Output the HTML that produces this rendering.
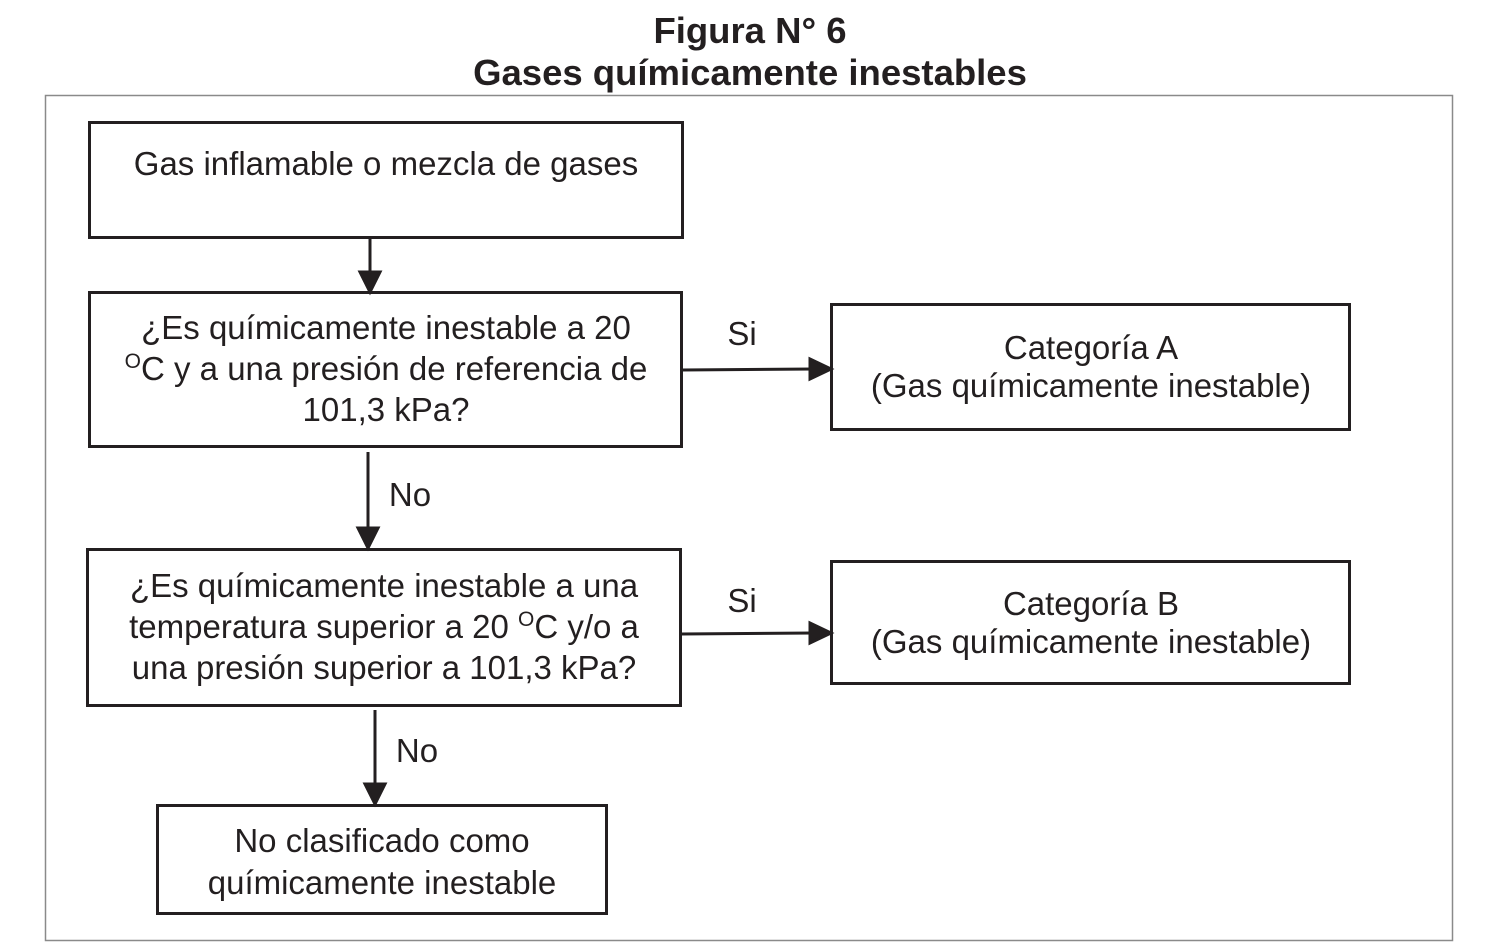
<!DOCTYPE html>
<html><head><meta charset="utf-8"><style>
html,body{margin:0;padding:0;background:#fff;}
svg{display:block;}
text{font-family:"Liberation Sans",Arial,sans-serif;fill:#231f20;}
</style></head><body>
<svg width="1500" height="944" viewBox="0 0 1500 944" xmlns="http://www.w3.org/2000/svg">
<text x="750" y="43" text-anchor="middle" font-size="36.5" font-weight="bold">Figura N° 6</text>
<text x="750" y="85" text-anchor="middle" font-size="36.5" font-weight="bold">Gases químicamente inestables</text>
<rect x="45.5" y="95.5" width="1407" height="845" fill="none" stroke="#8a8a8a" stroke-width="1.5"/>
<g fill="none" stroke="#231f20" stroke-width="3">
<rect x="89.5" y="122.5" width="593" height="115"/>
<rect x="89.5" y="292.5" width="592" height="154"/>
<rect x="831.5" y="304.5" width="518" height="125"/>
<rect x="87.5" y="549.5" width="593" height="156"/>
<rect x="831.5" y="561.5" width="518" height="122"/>
<rect x="157.5" y="805.5" width="449" height="108"/>
</g>
<g stroke="#231f20" stroke-width="3" fill="#231f20">
<line x1="370" y1="238" x2="370" y2="276"/><polygon points="360,272 380,272 370,292"/>
<line x1="682" y1="370" x2="814" y2="369"/><polygon points="810,359 810,379 831,369"/>
<line x1="368" y1="452" x2="368" y2="532"/><polygon points="358,528 378,528 368,548"/>
<line x1="681" y1="634" x2="814" y2="633"/><polygon points="810,623 810,643 831,633"/>
<line x1="375" y1="710" x2="375" y2="788"/><polygon points="365,784 385,784 375,804"/>
</g>
<g font-size="33" text-anchor="middle">
<text x="386" y="175">Gas inflamable o mezcla de gases</text>
<text x="386" y="339">¿Es químicamente inestable a 20</text>
<text x="386" y="380"><tspan font-size="21" dy="-12">O</tspan><tspan dy="12">C y a una presión de referencia de</tspan></text>
<text x="386" y="421">101,3 kPa?</text>
<text x="1091" y="359">Categoría A</text>
<text x="1091" y="397">(Gas químicamente inestable)</text>
<text x="742" y="345">Si</text>
<text x="410" y="506">No</text>
<text x="384" y="597">¿Es químicamente inestable a una</text>
<text x="384" y="638">temperatura superior a 20 <tspan font-size="21" dy="-12">O</tspan><tspan dy="12">C y/o a</tspan></text>
<text x="384" y="679">una presión superior a 101,3 kPa?</text>
<text x="1091" y="615">Categoría B</text>
<text x="1091" y="653">(Gas químicamente inestable)</text>
<text x="742" y="612">Si</text>
<text x="417" y="762">No</text>
<text x="382" y="852">No clasificado como</text>
<text x="382" y="894">químicamente inestable</text>
</g>
</svg>
</body></html>
